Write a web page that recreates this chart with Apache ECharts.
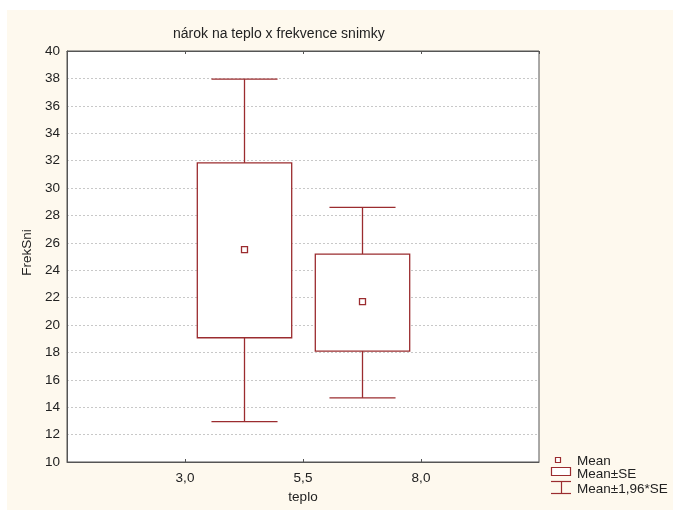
<!DOCTYPE html>
<html>
<head>
<meta charset="utf-8">
<script src="https://cdn.jsdelivr.net/npm/echarts@6/dist/echarts.min.js"></script>
<style>
  html, body { margin: 0; padding: 0; background: #ffffff; }
  #chart { width: 673px; height: 510px; }
</style>
</head>
<body>
<div id="chart"></div>
<script>
// Group positions on the teplo axis and the summary statistics of FrekSni
const groupX = [4.25, 6.75];
const ciLow  = [12.95, 14.68];   // Mean - 1,96*SE
const seLow  = [19.07, 18.10];   // Mean - SE
const means  = [25.5, 21.7];     // Mean
const seHigh = [31.83, 25.18];   // Mean + SE
const ciHigh = [37.95, 28.59];   // Mean + 1,96*SE

const xTicks = [0.5, 3.0, 5.5, 8.0, 10.5];
const yTicks = [10, 12, 14, 16, 18, 20, 22, 24, 26, 28, 30, 32, 34, 36, 38, 40];

const RED = '#9b2c2f';
const FONT = 'Liberation Sans, Arial, sans-serif';
const FS = 13.5;
const BOX_W = 2.0;   // box width in axis units
const CAP_W = 1.4;   // whisker cap width in axis units

const seriesData = groupX.map((x, i) => [x, ciLow[i], seLow[i], means[i], seHigh[i], ciHigh[i]]);

function renderItem(params, api) {
  const x = api.value(0);
  const cLo = api.coord([x, api.value(1)]);
  const bLo = api.coord([x, api.value(2)]);
  const m   = api.coord([x, api.value(3)]);
  const bHi = api.coord([x, api.value(4)]);
  const cHi = api.coord([x, api.value(5)]);
  const halfBox = api.size([BOX_W, 0])[0] / 2;
  const halfCap = api.size([CAP_W, 0])[0] / 2;
  const cx = Math.round(cHi[0]) + 0.5;
  const st = { stroke: RED, lineWidth: 1.3, fill: null };
  return {
    type: 'group',
    children: [
      { type: 'line', shape: { x1: cx, y1: cHi[1], x2: cx, y2: bHi[1] }, style: st },
      { type: 'line', shape: { x1: cx - halfCap, y1: cHi[1], x2: cx + halfCap, y2: cHi[1] }, style: st },
      { type: 'line', shape: { x1: cx, y1: bLo[1], x2: cx, y2: cLo[1] }, style: st },
      { type: 'line', shape: { x1: cx - halfCap, y1: cLo[1], x2: cx + halfCap, y2: cLo[1] }, style: st },
      { type: 'rect', shape: { x: cx - halfBox, y: bHi[1], width: 2 * halfBox, height: bLo[1] - bHi[1] },
        style: { stroke: RED, lineWidth: 1.3, fill: '#ffffff' } },
      { type: 'rect', shape: { x: cx - 3, y: m[1] - 3, width: 6, height: 6 },
        style: { stroke: RED, lineWidth: 1.3, fill: '#ffffff' } }
    ]
  };
}

const fmtX = v => v.toFixed(1).replace('.', ',');

const chart = echarts.init(document.getElementById('chart'));
chart.setOption({
  backgroundColor: '#fef9ee',
  animation: false,
  title: {
    text: 'nárok na teplo x frekvence snimky',
    left: 168, top: 22,
    textStyle: { fontFamily: FONT, fontSize: 14, fontWeight: 'normal', color: '#222' }
  },
  grid: {
    left: 67, right: 134, top: 51, bottom: 48,
    show: true, backgroundColor: '#ffffff', borderColor: '#555', borderWidth: 1
  },
  xAxis: [{
    type: 'value', min: xTicks[0], max: xTicks[xTicks.length - 1], interval: 2.5,
    name: 'teplo', nameLocation: 'middle', nameGap: 25,
    nameTextStyle: { fontFamily: FONT, fontSize: FS, color: '#222' },
    axisLine: { show: true, lineStyle: { color: '#555', width: 1 } },
    axisTick: { show: true, inside: true, length: 3, lineStyle: { color: '#555' } },
    axisLabel: { fontFamily: FONT, fontSize: FS, color: '#222', margin: 9,
                 showMinLabel: false, showMaxLabel: false, formatter: fmtX },
    splitLine: { show: false }
  }, {
    type: 'value', position: 'top', min: xTicks[0], max: xTicks[xTicks.length - 1], interval: 2.5,
    axisLine: { show: true, lineStyle: { color: '#555', width: 1 } },
    axisTick: { show: true, inside: true, length: 3, lineStyle: { color: '#555' } },
    axisLabel: { show: false },
    splitLine: { show: false }
  }],
  yAxis: {
    type: 'value', min: yTicks[0], max: yTicks[yTicks.length - 1], interval: 2,
    name: 'FrekSni', nameLocation: 'middle', nameGap: 33, nameRotate: 90,
    nameTextStyle: { fontFamily: FONT, fontSize: FS, color: '#222', padding: [0, 0, 0, 8] },
    axisLine: { show: true, lineStyle: { color: '#555', width: 1 } },
    axisTick: { show: false },
    axisLabel: { fontFamily: FONT, fontSize: FS, color: '#222', margin: 7 },
    splitLine: { show: true, lineStyle: { color: '#c8c8c8', type: [2, 2], width: 1 } }
  },
  graphic: [
    { type: 'rect', shape: { x: 0, y: 0, width: 673, height: 10 }, style: { fill: '#ffffff' }, silent: true },
    { type: 'rect', shape: { x: 0, y: 0, width: 7, height: 510 }, style: { fill: '#ffffff' }, silent: true },
    // legend
    { type: 'rect', shape: { x: 555.5, y: 457.5, width: 5, height: 5 }, style: { stroke: RED, lineWidth: 1.2, fill: '#fff' } },
    { type: 'text', x: 577, y: 461, style: { text: 'Mean', fontFamily: FONT, fontSize: FS, fill: '#222', verticalAlign: 'middle' } },
    { type: 'rect', shape: { x: 551.5, y: 467.5, width: 19, height: 8 }, style: { stroke: RED, lineWidth: 1.2, fill: '#fff' } },
    { type: 'text', x: 577, y: 474.5, style: { text: 'Mean±SE', fontFamily: FONT, fontSize: FS, fill: '#222', verticalAlign: 'middle' } },
    { type: 'line', shape: { x1: 551, y1: 481.5, x2: 571, y2: 481.5 }, style: { stroke: RED, lineWidth: 1.2 } },
    { type: 'line', shape: { x1: 561.5, y1: 481.5, x2: 561.5, y2: 493.5 }, style: { stroke: RED, lineWidth: 1.2 } },
    { type: 'line', shape: { x1: 551, y1: 493.5, x2: 571, y2: 493.5 }, style: { stroke: RED, lineWidth: 1.2 } },
    { type: 'text', x: 577, y: 489, style: { text: 'Mean±1,96*SE', fontFamily: FONT, fontSize: FS, fill: '#222', verticalAlign: 'middle' } }
  ],
  series: [{
    type: 'custom',
    renderItem: renderItem,
    encode: { x: 0, y: [1, 2, 3, 4, 5] },
    data: seriesData,
    z: 5
  }]
});
</script>
</body>
</html>
